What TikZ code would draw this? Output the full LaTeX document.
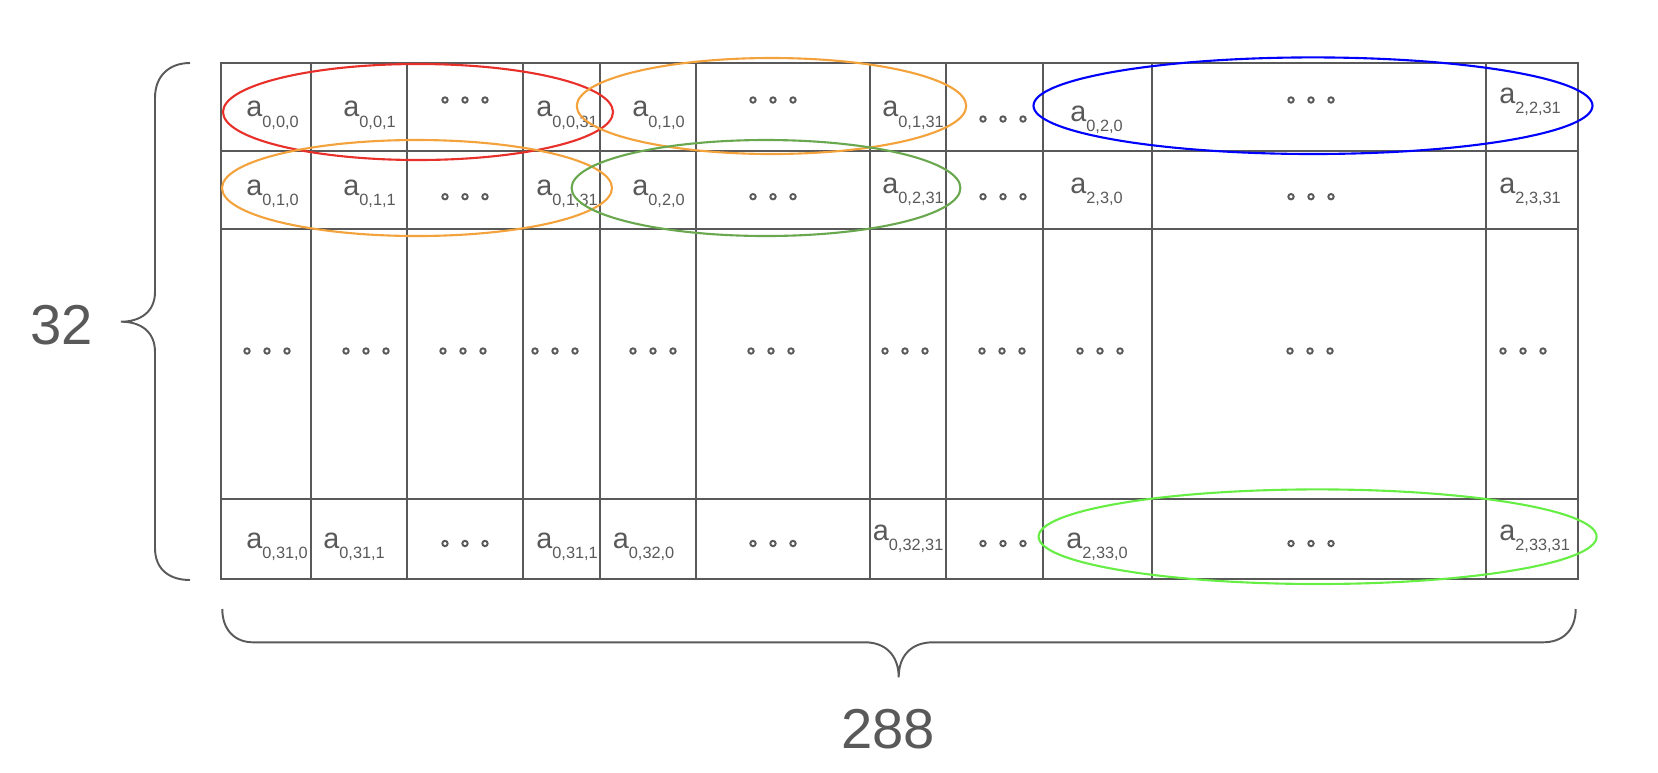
\documentclass[tikz,border=0pt]{standalone}
\usepackage{fontspec}
\setmainfont{Liberation Sans}
\usetikzlibrary{positioning}
\definecolor{mainGray}{HTML}{595959}
\definecolor{ringRed}{HTML}{E8302A}
\definecolor{ringOrange}{HTML}{F3A23C}
\definecolor{ringGreen}{HTML}{6AA84F}
\definecolor{ringBlue}{HTML}{0000FF}
\definecolor{ringLime}{HTML}{66EE44}

\tikzset{
    cellline/.style={mainGray, line width=1.1pt},
    ring/.style={line width=1.2pt},
    lbl/.style={anchor=base west, inner sep=0pt, text=mainGray},
    bracket/.style={mainGray, line width=1.1pt},
    count/.style={anchor=base, inner sep=0pt, text=mainGray, font=\fontsize{32}{36}\selectfont},
}
\newcommand{\alab}[1]{{\fontsize{16.4}{18}\selectfont a}{\fontsize{9.3}{10}\selectfont\raisebox{-6pt}{#1}}}
\newcommand{\odots}[2]{\foreach \dx in {-20,0,20} {\draw[mainGray, line width=1.1pt] (#1+\dx,#2) circle [radius=2.7];}}

\begin{document}
\begin{tikzpicture}[x=0.02cm, y=-0.02cm]
    \useasboundingbox (0,0) rectangle (1658,772);

    % Grid
    \draw[cellline] (221.4,62.7) rectangle (1577.7,579);
    \foreach \cx in {310.7, 407.1, 523.2, 600, 696.4, 869.7, 946.4, 1043.3, 1152, 1485.7}
        \draw[cellline] (\cx,62.7) -- (\cx,579);
    \foreach \ry in {150.7, 229, 499}
        \draw[cellline] (221.4,\ry) -- (1577.7,\ry);

    % Row 1
    \node[lbl] (r1a) at (246,116.7) {\alab{0,0,0}};
    \node[lbl] (r1b) at (343,116.7) {\alab{0,0,1}};
    \node[lbl] (r1c) at (536,116.7) {\alab{0,0,31}};
    \node[lbl] (r1d) at (632,116.7) {\alab{0,1,0}};
    \node[lbl] (r1e) at (882,116.7) {\alab{0,1,31}};
    \node[lbl] (r1f) at (1070,121) {\alab{0,2,0}};
    \node[lbl] (r1g) at (1499,103.3) {\alab{2,2,31}};
    \odots{465}{100} \odots{773}{100} \odots{1003}{119} \odots{1311}{100}

    % Row 2
    \node[lbl] (r2a) at (246,195) {\alab{0,1,0}};
    \node[lbl] (r2b) at (343,195) {\alab{0,1,1}};
    \node[lbl] (r2c) at (536,195) {\alab{0,1,31}};
    \node[lbl] (r2d) at (632,195) {\alab{0,2,0}};
    \node[lbl] (r2e) at (882,193.3) {\alab{0,2,31}};
    \node[lbl] (r2f) at (1070,193.3) {\alab{2,3,0}};
    \node[lbl] (r2g) at (1499,193.3) {\alab{2,3,31}};
    \odots{465}{196.7} \odots{773}{196.7} \odots{1003}{196.7} \odots{1311}{196.7}

    % Row 3
    \foreach \dotx in {267, 366, 463, 555, 653, 771, 905, 1002, 1100, 1310, 1523}
        {\odots{\dotx}{351}}

    % Row 4
    \node[lbl] (r4a) at (246,548.3) {\alab{0,31,0}};
    \node[lbl] (r4b) at (323,548.3) {\alab{0,31,1}};
    \node[lbl] (r4c) at (536,548.3) {\alab{0,31,1}};
    \node[lbl] (r4d) at (612.5,548.3) {\alab{0,32,0}};
    \node[lbl] (r4e) at (872.5,540) {\alab{0,32,31}};
    \node[lbl] (r4f) at (1066,548.3) {\alab{2,33,0}};
    \node[lbl] (r4g) at (1499,540) {\alab{2,33,31}};
    \odots{465}{543.5} \odots{773}{543.5} \odots{1003}{543.5} \odots{1311}{543.5}

    % Rings
    \draw[ring, ringRed] (418,112) ellipse [x radius=195, y radius=48];
    \draw[ring, ringOrange] (771.5,106) ellipse [x radius=194.7, y radius=48];
    \draw[ring, ringOrange] (417,188) ellipse [x radius=195, y radius=48];
    \draw[ring, ringGreen] (766,188) ellipse [x radius=194.4, y radius=48];
    \draw[ring, ringBlue] (1313,105.7) ellipse [x radius=279.5, y radius=48.3];
    \draw[ring, ringLime] (1317.6,536.7) ellipse [x radius=279, y radius=47.3];

    % Braces
    \draw[bracket] (190,63) .. controls (170,63) and (155,75) .. (155,98) -- (155,292)
        .. controls (155,312) and (140,321.7) .. (121,321.7)
        .. controls (140,321.7) and (155,331) .. (155,352) -- (155,548)
        .. controls (155,570) and (170,580) .. (190,580);
    \draw[bracket] (222.3,609) .. controls (222.3,630) and (235,642.3) .. (253,642.3) -- (865,642.3)
        .. controls (885,642.3) and (898.7,655) .. (898.7,677.3)
        .. controls (898.7,655) and (912,642.3) .. (933,642.3) -- (1543,642.3)
        .. controls (1563,642.3) and (1575.7,630) .. (1575.7,609);

    \node[count] (rows) at (61.7,344) {32};
    \node[count] (cols) at (888.3,748.3) {288};
\end{tikzpicture}
\end{document}
